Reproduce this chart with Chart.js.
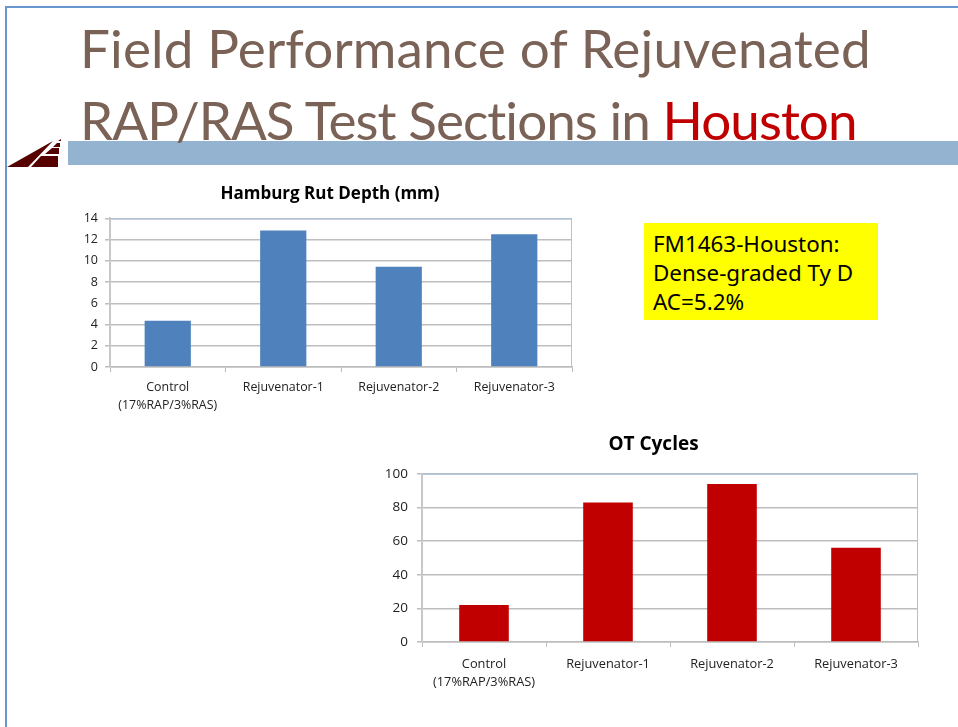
<!DOCTYPE html>
<html>
<head>
<meta charset="utf-8">
<script src="https://cdn.jsdelivr.net/npm/chart.js@4"></script>
<style>
  html, body { margin: 0; padding: 0; background: #fff; }
  body { position: relative; width: 958px; height: 727px; overflow: hidden; }
  #frame { position: absolute; left: 5px; top: 6px; width: 960px; height: 730px; border: 2px solid #6a96d0; box-sizing: border-box; }
  #band { position: absolute; left: 68px; top: 141px; width: 890px; height: 24px; background: #93b3d1; }
  #logo { position: absolute; left: 5px; top: 138px; }
  .title { position: absolute; left: 80px; font-family: Lato, sans-serif; font-size: 53px; line-height: 70px; color: #7a6257; white-space: nowrap; }
  .title span { color: #c00000; }
  #box { position: absolute; left: 644px; top: 223px; width: 234px; height: 97px; background: #ffff00; box-sizing: border-box;
         padding: 6px 0 0 9px; font-family: "Noto Sans", sans-serif; font-size: 22.4px; line-height: 29px; color: #000; }
  canvas { position: absolute; }
</style>
</head>
<body>
<div id="frame"></div>
<div id="band"></div>
<svg id="logo" width="60" height="32" viewBox="0 0 60 32">
  <polygon points="2,29 48,3 23,29" fill="#560000"/>
  <polygon points="26,29 36,18 53,18 53,29" fill="#560000"/>
  <polygon points="40,16 47,10 54,10 54,16" fill="#560000"/>
  <polygon points="48,9 52,5 55,5 55,9" fill="#560000"/>
  <polygon points="53,3 56,1 56,3" fill="#560000"/>
</svg>
<div class="title" id="line1" style="top:13px;letter-spacing:0.15px">Field Performance of Rejuvenated</div>
<div class="title" id="line2" style="top:85px;letter-spacing:-0.95px">RAP/RAS Test Sections in <span>Houston</span></div>
<div id="box">FM1463-Houston:<br>Dense-graded Ty D<br>AC=5.2%</div>
<canvas id="rutChart" width="520" height="245" style="left:60px;top:175px"></canvas>
<canvas id="otChart" width="560" height="270" style="left:369px;top:425px"></canvas>
<script>
var categories = [["Control", "(17%RAP/3%RAS)"], "Rejuvenator-1", "Rejuvenator-2", "Rejuvenator-3"];
var rutDepth = [4.35, 12.85, 9.45, 12.5];
var otCycles = [22, 83, 94, 56];

// light blue line round the plot, Excel style
var plotBorder = {
  id: 'plotBorder',
  beforeDatasetsDraw: function(chart) {
    var a = chart.chartArea, c = chart.ctx;
    c.save();
    c.strokeStyle = '#a9c4e4';
    c.lineWidth = 1;
    c.beginPath();
    c.moveTo(a.left, a.top + 0.5);
    c.lineTo(a.right - 0.5, a.top + 0.5);
    c.lineTo(a.right - 0.5, a.bottom);
    c.stroke();
    c.restore();
  }
};

// the titles sit right of the middle of the chart in the original
var titleShift = {
  id: 'titleShift',
  afterLayout: function(chart, args, opts) {
    chart.titleBlock.left += opts.by;
    chart.titleBlock.right += opts.by;
  }
};

var createBarChart = function(id, title, values, color, yMax, yStep, o) {
  new Chart(document.getElementById(id), {
    type: 'bar',
    plugins: [titleShift, plotBorder],
    data: {
      labels: categories,
      datasets: [{
        data: values,
        backgroundColor: color,
        categoryPercentage: 1,
        barPercentage: 0.4
      }]
    },
    options: {
      responsive: false,
      animation: false,
      layout: { padding: { left: 0, right: o.right, top: 0, bottom: 0 } },
      plugins: {
        legend: { display: false },
        tooltip: { enabled: false },
        titleShift: { by: o.shift },
        title: {
          display: true,
          text: title,
          color: '#000',
          font: { family: 'Open Sans', size: o.titleSize, weight: 'bold' },
          padding: { top: o.titleTop, bottom: o.titleBottom }
        }
      },
      scales: {
        x: {
          grid: { drawOnChartArea: false, color: '#bdbdbd', tickLength: 5 },
          border: { color: '#bdbdbd', width: 1.5 },
          afterFit: function(s) { s.height = o.xHeight; },
          ticks: { color: '#222', font: { family: 'Open Sans', size: o.tickX, lineHeight: 1.4 }, maxRotation: 0, padding: o.xPad }
        },
        y: {
          min: 0,
          max: yMax,
          afterFit: function(s) { s.width = o.yWidth; },
          grid: { color: '#bdbdbd', tickLength: 5, lineWidth: 1.5 },
          border: { color: '#c8c8c8', width: 2 },
          ticks: { stepSize: yStep, color: '#222', font: { family: 'Open Sans', size: o.tickY }, padding: o.yPad }
        }
      }
    }
  });
};

createBarChart('rutChart', 'Hamburg Rut Depth (mm)', rutDepth, '#4f81bd', 14, 2,
  { right: 8, shift: 14, titleSize: 17, titleTop: 9, titleBottom: 14, xHeight: 53, yWidth: 50, tickX: 12.4, tickY: 12.5, xPad: 7, yPad: 7 });
createBarChart('otChart', 'OT Cycles', otCycles, '#c00000', 100, 20,
  { right: 11, shift: 10, titleSize: 19, titleTop: 8, titleBottom: 18, xHeight: 53, yWidth: 53, tickX: 12.8, tickY: 13.5, xPad: 8, yPad: 9 });
</script>
</body>
</html>
